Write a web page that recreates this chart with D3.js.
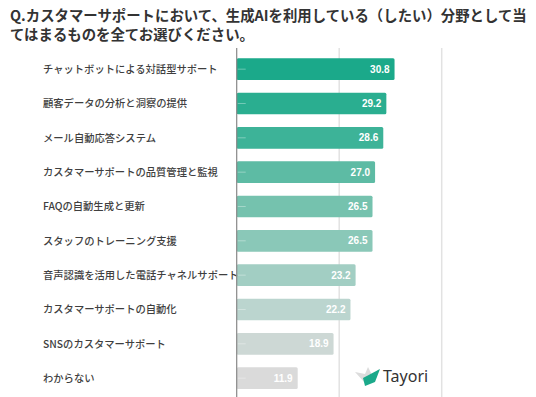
<!DOCTYPE html>
<html>
<head>
<meta charset="utf-8">
<script src="https://cdn.jsdelivr.net/npm/d3@7"></script>
<style>
  body { margin: 0; background: #fff; }
  svg { display: block; font-family: "Noto Sans CJK JP", "Noto Sans", sans-serif; }
</style>
</head>
<body>
<svg id="chart" width="536" height="397"></svg>
<script>
var titleLines = [
    "Q.カスタマーサポートにおいて、生成AIを利用している（したい）分野として当",
    "てはまるものを全てお選びください。"
];
var categories = [
    "チャットボットによる対話型サポート",
    "顧客データの分析と洞察の提供",
    "メール自動応答システム",
    "カスタマーサポートの品質管理と監視",
    "FAQの自動生成と更新",
    "スタッフのトレーニング支援",
    "音声認識を活用した電話チャネルサポート",
    "カスタマーサポートの自動化",
    "SNSのカスタマーサポート",
    "わからない"
];
var values = [30.8, 29.2, 28.6, 27.0, 26.5, 26.5, 23.2, 22.2, 18.9, 11.9];
var barColors = ["#1ba98a", "#2aae90", "#3db398", "#5dbba4", "#75c2ae", "#8ac8b8", "#a2cec3", "#bbd5cf", "#cdd8d5", "#dadada"];
var gridValues = [20, 40];

var svg = d3.select("#chart");

// title, two lines
svg.append("g").selectAll("text").data(titleLines).enter().append("text")
    .attr("x", 10)
    .attr("y", function(d, i) { return 21 + i * 18.5; })
    .attr("fill", "#333")
    .attr("font-size", "14.4px")
    .attr("font-weight", "bold")
    .text(function(d) { return d; });

var x = d3.scaleLinear().domain([0, 40]).range([236.7, 441.7]);
var y = d3.scaleBand().domain(categories).range([52, 395.3])
    .paddingInner(0.368).paddingOuter(0.184);

// grid lines
svg.append("g").selectAll("line").data(gridValues).enter().append("line")
    .attr("x1", function(d) { return x(d); })
    .attr("x2", function(d) { return x(d); })
    .attr("y1", 48)
    .attr("y2", 397)
    .attr("stroke", "#e2e2e2")
    .attr("stroke-width", 1.5);

// bars
var bars = svg.append("g");
bars.selectAll("rect").data(values).enter().append("rect")
    .attr("x", x(0))
    .attr("y", function(d, i) { return y(categories[i]); })
    .attr("width", function(d) { return x(d) - x(0); })
    .attr("height", y.bandwidth())
    .attr("rx", 1.5)
    .attr("fill", function(d, i) { return barColors[i]; });

// small tick marks inside the bars
bars.selectAll("line").data(categories).enter().append("line")
    .attr("x1", x(0) + 1)
    .attr("x2", x(0) + 9)
    .attr("y1", function(d) { return y(d) + y.bandwidth() / 2; })
    .attr("y2", function(d) { return y(d) + y.bandwidth() / 2; })
    .attr("stroke", "rgba(255,255,255,0.35)")
    .attr("stroke-width", 1);

// value labels
bars.selectAll("text").data(values).enter().append("text")
    .attr("x", function(d) { return x(d) - 5; })
    .attr("y", function(d, i) { return y(categories[i]) + y.bandwidth() / 2; })
    .attr("dy", "0.35em")
    .attr("text-anchor", "end")
    .attr("fill", "#fff")
    .attr("font-size", "10px")
    .attr("font-weight", "bold")
    .attr("font-family", "'Liberation Sans', Arial, sans-serif")
    .text(function(d) { return d.toFixed(1); });

// category labels
svg.append("g").selectAll("text").data(categories).enter().append("text")
    .attr("x", 43)
    .attr("y", function(d) { return y(d) + y.bandwidth() / 2; })
    .attr("dy", "0.36em")
    .attr("fill", "#3f3f3f")
    .attr("font-size", "10.3px")
    .attr("font-weight", 500)
    .text(function(d) { return d; });

// axis line
svg.append("line")
    .attr("x1", x(0)).attr("x2", x(0))
    .attr("y1", 48).attr("y2", 397)
    .attr("stroke", "#888")
    .attr("stroke-width", 1.2);

// Tayori logo
var logo = svg.append("g").attr("transform", "translate(355,366)");
logo.append("path")
    .attr("d", "M0,6 L10,8 L13,1 L17,9 L24,3 L20,15 L10,17 Z")
    .attr("fill", "#dcdcdc");
logo.append("path")
    .attr("d", "M8,12 L25,3 L20,16 L10,20 Z")
    .attr("fill", "#1ba98a");
logo.append("text")
    .attr("x", 28)
    .attr("y", 16)
    .attr("fill", "#333")
    .attr("font-size", "16px")
    .attr("font-family", "'Noto Sans', sans-serif")
    .text("Tayori");
</script>
</body>
</html>
